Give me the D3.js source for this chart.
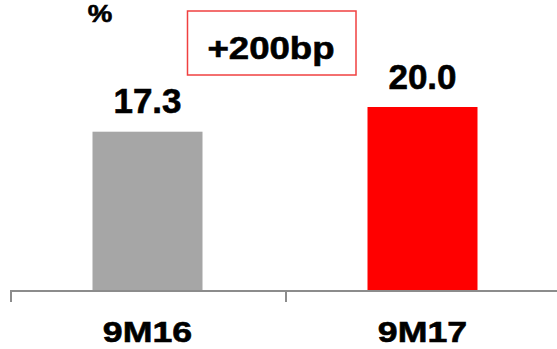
<!DOCTYPE html>
<html>
<head>
<meta charset="utf-8">
<script src="https://cdn.jsdelivr.net/npm/d3@7"></script>
<style>
  html, body { margin: 0; padding: 0; background: #fff; }
  svg { display: block; font-family: "Liberation Sans", Arial, sans-serif; font-weight: bold; }
  text { stroke: #000; stroke-width: 0.6px; }
</style>
</head>
<body>
<svg id="chart" width="557" height="349"></svg>
<script>
const categories = ["9M16", "9M17"];
const values = [17.3, 20.0];
const valueLabels = ["17.3", "20.0"];
const barColors = ["#a6a6a6", "#ff0000"];
const unitLabel = "%";
const deltaLabel = "+200bp";

const svg = d3.select("#chart");
const W = 557, H = 349;

const xOuter = d3.scaleBand().domain(categories).range([10, 560]).padding(0);
const x = d3.scaleBand().domain(categories).range([10, 560]).paddingInner(0.6).paddingOuter(0.3);
const y = d3.scaleLinear().domain([0, 20]).range([290, 107]);

// bars
svg.selectAll("rect.bar").data(values).enter().append("rect")
  .attr("class", "bar")
  .attr("x", (d, i) => x(categories[i]))
  .attr("width", x.bandwidth())
  .attr("y", d => y(d))
  .attr("height", d => y(0) - y(d))
  .attr("fill", (d, i) => barColors[i]);

// value labels
svg.selectAll("text.val").data(values).enter().append("text")
  .attr("class", "val")
  .attr("x", (d, i) => x(categories[i]) + x.bandwidth() / 2)
  .attr("y", d => y(d) - 18.5)
  .attr("text-anchor", "middle")
  .attr("font-size", 35)
  .attr("fill", "#000")
  .text((d, i) => valueLabels[i]);

// axis line
const axisY = y(0) + 1;
svg.append("line")
  .attr("x1", 10).attr("x2", W)
  .attr("y1", axisY).attr("y2", axisY)
  .attr("stroke", "#8c8c8c").attr("stroke-width", 2);

// ticks at band boundaries
svg.selectAll("line.tick").data(categories).enter().append("line")
  .attr("class", "tick")
  .attr("x1", d => xOuter(d) + 1).attr("x2", d => xOuter(d) + 1)
  .attr("y1", axisY - 1).attr("y2", 302)
  .attr("stroke", "#8c8c8c").attr("stroke-width", 2);

// category labels (horizontally stretched)
svg.selectAll("g.cat").data(categories).enter().append("g")
  .attr("class", "cat")
  .attr("transform", d => `translate(${x(d) + x.bandwidth() / 2},342) scale(1.19,1)`)
  .append("text")
  .attr("text-anchor", "middle")
  .attr("font-size", 30)
  .attr("fill", "#000")
  .text(d => d);

// unit label
svg.append("g")
  .attr("transform", "translate(100,22) scale(1.15,1)")
  .append("text")
  .attr("text-anchor", "middle")
  .attr("font-size", 24)
  .attr("fill", "#000")
  .text(unitLabel);

// delta box
svg.append("rect")
  .attr("x", 187.5).attr("y", 11)
  .attr("width", 168.5).attr("height", 64)
  .attr("fill", "none")
  .attr("stroke", "#f04040").attr("stroke-width", 1.5);

svg.append("g")
  .attr("transform", "translate(271,58.5) scale(1.18,1)")
  .append("text")
  .attr("text-anchor", "middle")
  .attr("font-size", 31)
  .attr("fill", "#000")
  .text(deltaLabel);
</script>
</body>
</html>
